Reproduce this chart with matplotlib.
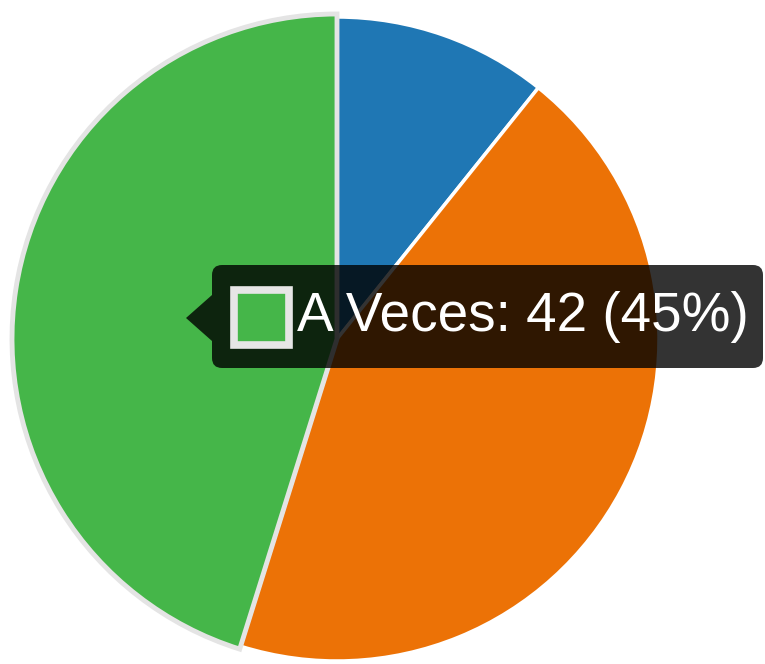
import matplotlib.pyplot as plt
from matplotlib.patches import FancyBboxPatch, Polygon, Rectangle

# data
labels = ["Siempre", "Nunca", "A Veces"]
values = [10, 41, 42]
colors = ["#1f77b4", "#ec7206", "#45b649"]
hovered = 2  # index of the slice showing the tooltip

W, H = 765, 664
fig = plt.figure(figsize=(W / 100, H / 100), dpi=100)
ax = fig.add_axes([0, 0, 1, 1])

# y axis runs downward (pixel-like), so start at -90 and go "counterclockwise"
# in data space, which shows clockwise from 12 o'clock on screen
wedges, _ = ax.pie(values, colors=colors, startangle=-90, counterclock=True,
                   center=(337, 339), radius=322, frame=True,
                   wedgeprops=dict(edgecolor="white", linewidth=2.5))
ax.set_xlim(0, W)
ax.set_ylim(H, 0)
ax.set_aspect("equal")
ax.axis("off")

# hovered slice: slightly bigger, grey border
w = wedges[hovered]
w.set_radius(w.r + 3)
w.set_edgecolor("#e4e4e4")
w.set_linewidth(3.5)
w.set_zorder(3)

# tooltip
total = sum(values)
pct = round(values[hovered] / total * 100)
tip_text = f"{labels[hovered]}: {values[hovered]} ({pct}%)"

box = FancyBboxPatch((212, 265), 551, 103, boxstyle="round,pad=0,rounding_size=10",
                     facecolor="black", edgecolor="none", alpha=0.8, zorder=5)
ax.add_patch(box)
arrow = Polygon([(186, 318), (212, 295), (212, 341)], closed=True,
                facecolor="black", edgecolor="none", alpha=0.8, zorder=5)
ax.add_patch(arrow)
sq = Rectangle((234, 290), 55, 55, facecolor=colors[hovered],
               edgecolor="#e6e6e6", linewidth=5.5, zorder=6)
ax.add_patch(sq)
ax.text(297, 331, tip_text, color="white", fontsize=39.5, family="Liberation Sans",
        va="baseline", ha="left", zorder=7)

fig.savefig("out.png", dpi=100)
